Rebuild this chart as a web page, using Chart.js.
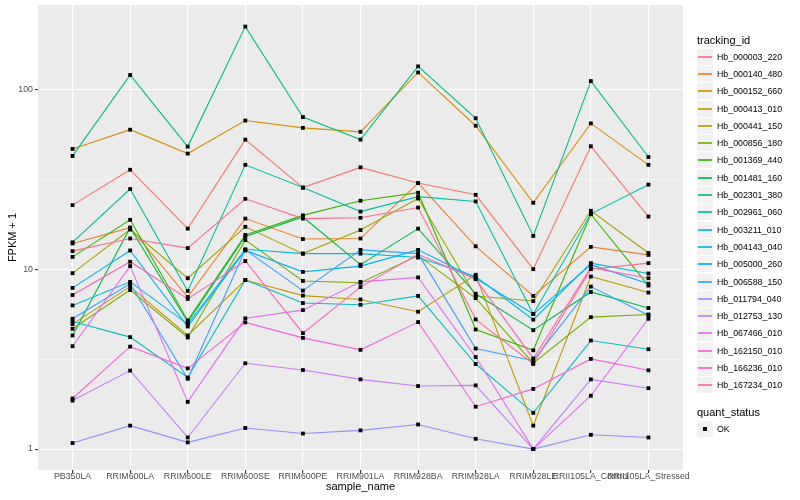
<!DOCTYPE html>
<html>
<head>
<meta charset="utf-8">
<script src="https://cdn.jsdelivr.net/npm/chart.js@4"></script>
<style>
  body { margin: 0; background: #fff; font-family: "Liberation Sans", Arial, sans-serif; }
  #wrap { position: relative; width: 800px; height: 500px; }
  #legend { position: absolute; left: 697px; top: 32px; }
  .ttl { font-size: 11px; height: 16px; line-height: 16px; color: #000; }
  .row { display: flex; align-items: center; height: 17.3px; }
  .key { width: 16px; height: 16px; background: #F2F2F2; position: relative; margin-right: 4px; }
  .key i { position: absolute; left: 1px; right: 1px; top: 7px; height: 2px; opacity: 0.85; }
  .key b { position: absolute; left: 6px; top: 6px; width: 4px; height: 4px; background: #000; }
  .lab { font-size: 8.8px; color: #000; }
</style>
</head>
<body>
<div id="wrap">
  <canvas id="myChart" width="800" height="500"></canvas>
  <div id="legend"></div>
</div>
<script>
const categories = ["PB350LA", "RRIM600LA", "RRIM600LE", "RRIM600SE", "RRIM600PE", "RRIM901LA",
  "RRIM928BA", "RRIM928LA", "RRIM928LE", "RRII105LA_Control", "RRII105LA_Stressed"];

// FPKM + 1 per sample, one array per tracking_id
const hb000003_220 = [22.7, 35.7, 16.8, 52.5, 28.4, 36.8, 30.1, 25.9, 10.0, 48.2, 19.6];
const hb000140_480 = [13.9, 17.0, 7.0, 19.1, 14.7, 14.8, 30.1, 13.4, 7.1, 13.3, 12.0];
const hb000152_660 = [46.6, 59.6, 43.9, 67, 61, 58, 124, 62.7, 23.4, 64.6, 38];
const hb000413_010 = [4.95, 8.0, 4.28, 8.7, 7.13, 6.78, 5.8, 9.3, 1.35, 9.1, 7.41];
const hb000441_150 = [9.5, 16.6, 8.9, 17.2, 12.2, 16.5, 24.7, 7.1, 6.65, 21.1, 12.3];
const hb000856_180 = [4.66, 7.66, 4.17, 14.5, 8.6, 8.4, 11.9, 6.9, 3.0, 5.41, 5.6];
const hb001369_440 = [11.7, 18.8, 5.19, 15.5, 19.9, 24, 26.6, 4.62, 3.54, 20.2, 8.1];
const hb001481_160 = [4.28, 17.0, 5.08, 15.2, 19.5, 10.6, 16.8, 7.3, 4.58, 7.47, 6.08];
const hb002301_380 = [42.6, 120, 48, 223, 70, 52.5, 134, 69, 15.3, 111, 42];
const hb002961_060 = [14.1, 27.9, 7.57, 38, 28.4, 20.9, 25.3, 23.8, 5.63, 20.3, 29.5];
const hb003211_010 = [5.12, 4.19, 2.5, 8.7, 6.48, 6.34, 7.1, 2.97, 1.59, 4.01, 3.59];
const hb004143_040 = [6.29, 8.5, 4.95, 12.9, 12.2, 12.2, 11.6, 9.1, 5.24, 10.8, 9.46];
const hb005000_260 = [7.87, 12.7, 4.8, 12.7, 9.66, 10.4, 12.8, 8.9, 5.63, 10.6, 8.3];
const hb006588_150 = [5.3, 8.3, 2.46, 12.8, 7.6, 12.8, 12.2, 3.62, 3.1, 8.0, 5.55];
const hb011794_040 = [1.08, 1.35, 1.09, 1.31, 1.22, 1.27, 1.37, 1.14, 1.0, 1.2, 1.16];
const hb012753_130 = [1.86, 2.73, 1.16, 3.0, 2.75, 2.44, 2.24, 2.26, 1.0, 2.44, 2.18];
const hb067466_010 = [3.73, 10.4, 1.83, 5.33, 5.92, 8.5, 9.0, 3.25, 1.0, 1.98, 5.3];
const hb162150_010 = [1.91, 3.71, 2.81, 5.06, 4.15, 3.56, 5.08, 1.72, 2.16, 3.17, 2.74];
const hb166236_010 = [7.18, 11.0, 6.83, 11.1, 4.41, 7.95, 12.1, 8.8, 3.19, 10.2, 8.9];
const hb167234_010 = [12.6, 14.8, 13.1, 24.6, 19.1, 19.3, 22, 5.26, 2.97, 10.0, 10.8];

const trackingIds = ["Hb_000003_220", "Hb_000140_480", "Hb_000152_660", "Hb_000413_010", "Hb_000441_150",
  "Hb_000856_180", "Hb_001369_440", "Hb_001481_160", "Hb_002301_380", "Hb_002961_060", "Hb_003211_010",
  "Hb_004143_040", "Hb_005000_260", "Hb_006588_150", "Hb_011794_040", "Hb_012753_130", "Hb_067466_010",
  "Hb_162150_010", "Hb_166236_010", "Hb_167234_010"];
const seriesValues = [hb000003_220, hb000140_480, hb000152_660, hb000413_010, hb000441_150,
  hb000856_180, hb001369_440, hb001481_160, hb002301_380, hb002961_060, hb003211_010,
  hb004143_040, hb005000_260, hb006588_150, hb011794_040, hb012753_130, hb067466_010,
  hb162150_010, hb166236_010, hb167234_010];
const colors = ["#F8766D", "#EA8331", "#D89000", "#C09B00", "#A3A500", "#7CAE00", "#39B600", "#00BB4E",
  "#00BF7D", "#00C1A3", "#00BFC4", "#00BAE0", "#00B0F6", "#35A2FF", "#9590FF", "#C77CFF", "#E76BF3",
  "#FA62DB", "#FF62BC", "#FF6C91"];

const yMin = 0.765, yMax = 294;
const yMajor = [1, 10, 100];
const yMinor = [Math.sqrt(10), Math.sqrt(1000)];

// line datasets (later series drawn on top, like ggplot)
let datasets = [];
for (let i = 0; i < seriesValues.length; i++) {
    datasets.push({
        label: trackingIds[i],
        data: seriesValues[i].map((v, j) => ({ x: j + 1, y: v })),
        borderColor: colors[i],
        backgroundColor: colors[i],
        borderWidth: 1.1,
        pointRadius: 0,
        fill: false,
        order: seriesValues.length - i
    });
}
// black squares for quant_status OK
let okPoints = [];
seriesValues.forEach(arr => arr.forEach((v, j) => okPoints.push({ x: j + 1, y: v })));
datasets.push({
    label: "OK",
    data: okPoints,
    showLine: false,
    pointStyle: "rect",
    pointRadius: 2.7,
    pointBackgroundColor: "#000",
    pointBorderWidth: 0,
    order: -1
});

const panelBg = {
    id: "panelBg",
    beforeDraw(chart) {
        const { ctx, chartArea: a } = chart;
        ctx.save();
        ctx.fillStyle = "#EBEBEB";
        ctx.fillRect(a.left, a.top, a.right - a.left, a.bottom - a.top);
        ctx.restore();
    }
};

const isMajor = c => c.tick && yMajor.includes(c.tick.value);
const isEdge = c => c.tick && (c.tick.value === yMin || c.tick.value === yMax);

Chart.defaults.font.family = "'Liberation Sans', Arial, sans-serif";

const ctx = document.getElementById("myChart").getContext("2d");
new Chart(ctx, {
    type: "line",
    data: { datasets: datasets },
    plugins: [panelBg],
    options: {
        responsive: false,
        animation: false,
        layout: { padding: { top: 5, right: 117, bottom: 0, left: 0 } },
        plugins: { legend: { display: false }, tooltip: { enabled: false } },
        scales: {
            x: {
                type: "linear",
                min: 0.4,
                max: 11.6,
                afterBuildTicks: s => { s.ticks = categories.map((c, i) => ({ value: i + 1 })); },
                afterFit: s => { s.height = 30; },
                ticks: {
                    callback: v => categories[v - 1] || "",
                    autoSkip: false, maxRotation: 0, minRotation: 0,
                    color: "#4D4D4D", font: { size: 8.8 }, padding: -2
                },
                grid: { color: "#FFFFFF", lineWidth: 1.1, tickColor: "#333333", tickLength: 3 },
                border: { display: false },
                title: { display: true, text: "sample_name", color: "#000", font: { size: 11 }, padding: { top: 0, bottom: 6 } }
            },
            y: {
                type: "logarithmic",
                min: yMin,
                max: yMax,
                afterBuildTicks: s => {
                    s.ticks = [yMin].concat(yMajor, yMinor, [yMax]).sort((a, b) => a - b).map(v => ({ value: v }));
                },
                afterFit: s => { s.width = 38; },
                ticks: {
                    callback: v => yMajor.includes(v) ? String(v) : ((v === yMin || v === yMax) ? [] : ""),
                    color: "#4D4D4D", font: { size: 8.8 }, padding: 2
                },
                grid: {
                    color: c => isEdge(c) ? "rgba(0,0,0,0)" : "#FFFFFF",
                    lineWidth: c => isMajor(c) ? 1.1 : 0.55,
                    tickColor: c => isMajor(c) ? "#333333" : "rgba(0,0,0,0)",
                    tickLength: 3
                },
                border: { display: false },
                title: { display: true, text: "FPKM + 1", color: "#000", font: { size: 11 }, padding: { top: 6, bottom: 0 } }
            }
        }
    }
});

// ggplot-style legend
let legend = document.getElementById("legend");
let html = '<div class="ttl">tracking_id</div>';
for (let i = 0; i < trackingIds.length; i++) {
    html += '<div class="row"><span class="key"><i style="background:' + colors[i] + '"></i></span><span class="lab">' + trackingIds[i] + '</span></div>';
}
html += '<div class="ttl" style="margin-top:10px">quant_status</div>';
html += '<div class="row"><span class="key"><b></b></span><span class="lab">OK</span></div>';
legend.innerHTML = html;
</script>
</body>
</html>
